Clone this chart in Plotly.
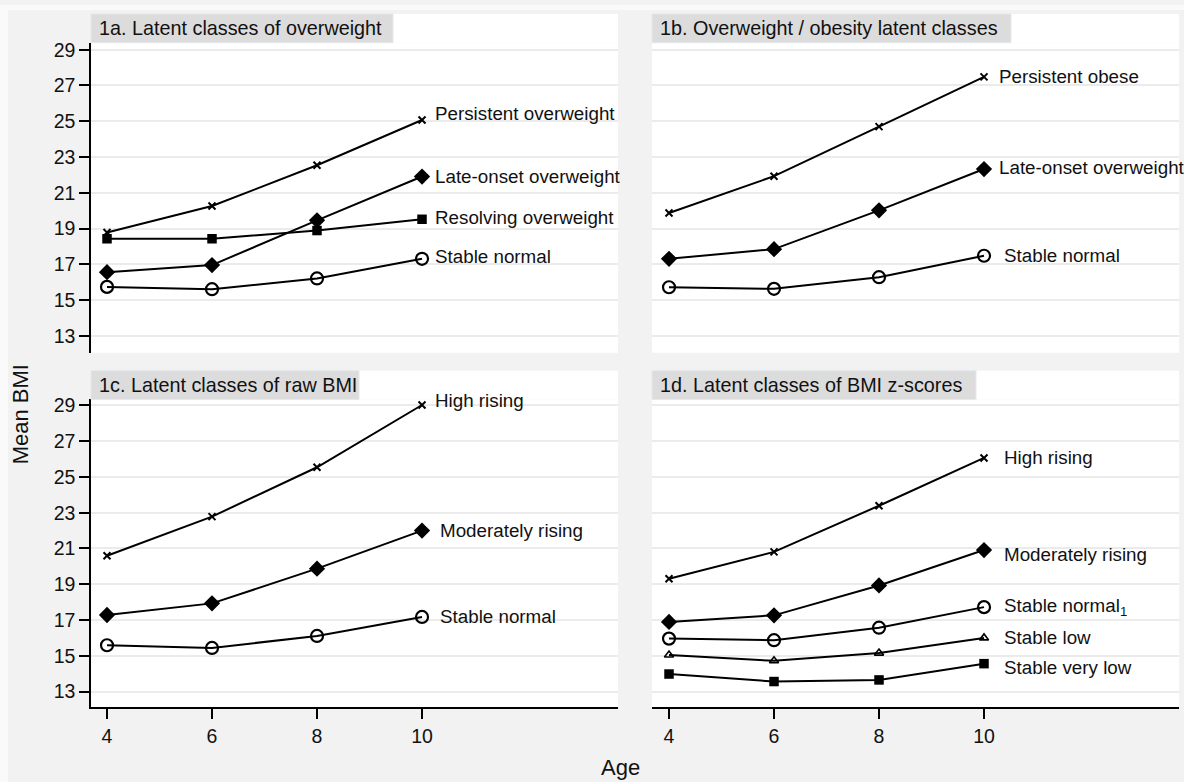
import plotly.graph_objects as go

# ---------------- data ----------------
ages = [4, 6, 8, 10]
x_ticks = [4, 6, 8, 10]
y_ticks = [13, 15, 17, 19, 21, 23, 25, 27, 29]

panel_titles = ["1a. Latent classes of overweight",
                "1b. Overweight / obesity latent classes",
                "1c. Latent classes of raw BMI",
                "1d. Latent classes of BMI z-scores"]

# 1a
persistent_overweight = [18.78, 20.26, 22.54, 25.07]
late_onset_1a = [16.56, 16.96, 19.46, 21.91]
resolving_overweight = [18.43, 18.43, 18.89, 19.52]
stable_normal_1a = [15.74, 15.61, 16.21, 17.31]
# 1b
persistent_obese = [19.87, 21.93, 24.70, 27.48]
late_onset_1b = [17.31, 17.85, 20.02, 22.33]
stable_normal_1b = [15.72, 15.63, 16.28, 17.48]
# 1c
high_rising_1c = [20.59, 22.78, 25.54, 29.02]
moderately_rising_1c = [17.28, 17.93, 19.87, 22.00]
stable_normal_1c = [15.59, 15.44, 16.11, 17.17]
# 1d
high_rising_1d = [19.31, 20.81, 23.39, 26.06]
moderately_rising_1d = [16.89, 17.26, 18.93, 20.91]
stable_normal_1d = [15.96, 15.87, 16.57, 17.72]
stable_low = [15.04, 14.72, 15.15, 16.00]
stable_very_low = [13.98, 13.56, 13.65, 14.56]

# ---------------- styles ----------------
W, H = 1184, 782
FONT = "Liberation Sans, Arial, sans-serif"
BLACK = "#000000"

MK = {
    "x": dict(symbol="x-thin", size=7, line=dict(width=2, color=BLACK), color=BLACK),
    "diamond": dict(symbol="diamond", size=12.5, color=BLACK, line=dict(width=0)),
    "square": dict(symbol="square", size=9.5, color=BLACK, line=dict(width=0)),
    "circle": dict(symbol="circle-open", size=12, color=BLACK, line=dict(width=2.2, color=BLACK)),
    "triangle": dict(symbol="triangle-up-open", size=8, color=BLACK, line=dict(width=1.6, color=BLACK)),
}

def px(x):
    return x / W

def py(y):
    return 1 - y / H

# panel geometry (pixels)
LEFT = (91, 618)
RIGHT = (652, 1179)
TOP = (38, 350)      # plot area y (top, bottom)
BOT = (397, 707)
TOP_STRIP = 9
BOT_STRIP = 368

x_range_left = [3.695, 13.733]
x_range_right = [3.676, 13.714]
y_range_top = [12.056, 29.39]
y_range_bot = [12.11, 29.33]

# series: (axis index, values, marker, label, label yshift, label xshift)
series = [
    (1, persistent_overweight, "x", "Persistent overweight", 7, 11),
    (1, late_onset_1a, "diamond", "Late-onset overweight", 0, 11),
    (1, resolving_overweight, "square", "Resolving overweight", 2, 11),
    (1, stable_normal_1a, "circle", "Stable normal", 2, 11),
    (2, persistent_obese, "x", "Persistent obese", 0, 13),
    (2, late_onset_1b, "diamond", "Late-onset overweight", 2, 13),
    (2, stable_normal_1b, "circle", "Stable normal", 0, 18),
    (3, high_rising_1c, "x", "High rising", 5, 11),
    (3, moderately_rising_1c, "diamond", "Moderately rising", 0, 16),
    (3, stable_normal_1c, "circle", "Stable normal", 0, 16),
    (4, high_rising_1d, "x", "High rising", 0, 18),
    (4, moderately_rising_1d, "diamond", "Moderately rising", -4, 18),
    (4, stable_normal_1d, "circle", "Stable normal<sub>1</sub>", 0, 18),
    (4, stable_low, "triangle", "Stable low", 0, 18),
    (4, stable_very_low, "square", "Stable very low", -4, 18),
]

fig = go.Figure()
annotations = []
for ax, vals, mk, label, ysh, xsh in series:
    sfx = "" if ax == 1 else str(ax)
    fig.add_trace(go.Scatter(
        x=ages, y=vals, mode="lines+markers",
        line=dict(color=BLACK, width=2),
        marker=MK[mk],
        xaxis="x" + sfx, yaxis="y" + sfx,
        showlegend=False, hoverinfo="skip", cliponaxis=False,
    ))
    annotations.append(dict(
        x=ages[-1], y=vals[-1], xref="x" + sfx, yref="y" + sfx,
        text=label, showarrow=False, xanchor="left", yanchor="middle",
        xshift=xsh, yshift=ysh,
        font=dict(family=FONT, size=18.8, color="#111111"),
    ))

shapes = []
# lighter thin frame at the left and top edges
shapes.append(dict(type="rect", xref="paper", yref="paper", x0=0, x1=px(8), y0=0, y1=1,
                   fillcolor="#fafafa", line=dict(width=0), layer="below"))
shapes.append(dict(type="rect", xref="paper", yref="paper", x0=0, x1=1, y0=py(5), y1=1,
                   fillcolor="#fafafa", line=dict(width=0), layer="below"))

panels = [
    (LEFT, TOP, TOP_STRIP, panel_titles[0], 393),
    (RIGHT, TOP, TOP_STRIP, panel_titles[1], 1011),
    (LEFT, BOT, BOT_STRIP, panel_titles[2], 359),
    (RIGHT, BOT, BOT_STRIP, panel_titles[3], 976),
]
for (xl, xr), (yt, yb), ystrip, title, box_right in panels:
    shapes.append(dict(type="rect", xref="paper", yref="paper",
                       x0=px(xl), x1=px(xr), y0=py(yt), y1=py(ystrip),
                       fillcolor="white", line=dict(width=0), layer="below"))
    shapes.append(dict(type="rect", xref="paper", yref="paper",
                       x0=px(xl), x1=px(box_right), y0=py(ystrip + 29), y1=py(ystrip),
                       fillcolor="#dcdcdc", line=dict(width=1, color="#e4e8ec"), layer="above"))
    annotations.append(dict(
        x=px(xl + 6), y=py(ystrip + 14.5), xref="paper", yref="paper",
        text=title, showarrow=False, xanchor="left", yanchor="middle",
        font=dict(family=FONT, size=19.8, color="#111111"),
    ))

annotations.append(dict(x=px(20), y=py(412), xref="paper", yref="paper", text="Mean BMI",
                        textangle=-90, showarrow=False, xanchor="center", yanchor="middle",
                        font=dict(family=FONT, size=22, color="#111111")))
annotations.append(dict(x=px(620), y=py(767), xref="paper", yref="paper", text="Age",
                        showarrow=False, xanchor="center", yanchor="middle",
                        font=dict(family=FONT, size=22, color="#111111")))

tickfont = dict(family=FONT, size=19.5, color="#111111")
grid = dict(showgrid=True, gridcolor="#ebebeb", gridwidth=2)

def xaxis(domain_px, rng, anchor, bottom):
    d = dict(domain=[px(domain_px[0]), px(domain_px[1])], range=rng, anchor=anchor,
             tickvals=x_ticks, showgrid=False, zeroline=False, fixedrange=True)
    if bottom:
        d.update(showline=True, linecolor=BLACK, linewidth=1.5, ticks="outside",
                 ticklen=10, tickwidth=1.5, tickcolor=BLACK, tickfont=tickfont,
                 showticklabels=True)
    else:
        d.update(showline=False, ticks="", showticklabels=False)
    return d

def yaxis(domain_px, rng, anchor, left):
    d = dict(domain=[py(domain_px[1]), py(domain_px[0])], range=rng, anchor=anchor,
             tickvals=y_ticks, zeroline=False, fixedrange=True, **grid)
    if left:
        d.update(showline=True, linecolor=BLACK, linewidth=1.5, ticks="outside",
                 ticklen=10, tickwidth=1.5, tickcolor=BLACK, tickfont=tickfont,
                 showticklabels=True)
    else:
        d.update(showline=False, ticks="", showticklabels=False)
    return d

fig.update_layout(
    width=W, height=H,
    margin=dict(l=0, r=0, t=0, b=0),
    paper_bgcolor="#f2f2f2", plot_bgcolor="white",
    font=dict(family=FONT, color="#111111"),
    xaxis=xaxis(LEFT, x_range_left, "y", False),
    yaxis=yaxis(TOP, y_range_top, "x", True),
    xaxis2=xaxis(RIGHT, x_range_right, "y2", False),
    yaxis2=yaxis(TOP, y_range_top, "x2", False),
    xaxis3=xaxis(LEFT, x_range_left, "y3", True),
    yaxis3=yaxis(BOT, y_range_bot, "x3", True),
    xaxis4=xaxis(RIGHT, x_range_right, "y4", True),
    yaxis4=yaxis(BOT, y_range_bot, "x4", False),
    shapes=shapes, annotations=annotations,
)

fig.write_html(
    "out.html",
    config={"displayModeBar": False},
    post_script="document.body.style.margin='0';document.body.style.overflow='hidden';",
)
